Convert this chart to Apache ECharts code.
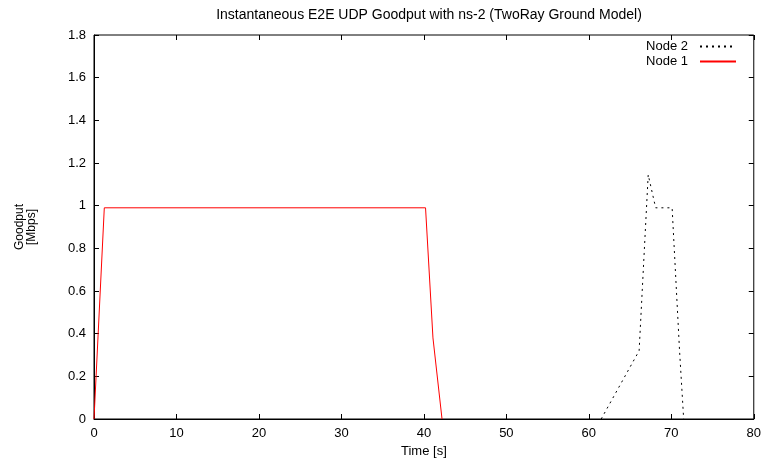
<!DOCTYPE html>
<html><head><meta charset="utf-8">
<script src="https://cdn.jsdelivr.net/npm/echarts@6/dist/echarts.min.js"></script>
<style>html,body{margin:0;padding:0;background:#fff}#c{width:764px;height:464px}</style>
</head><body><div id="c"></div>
<script>
const titleText = 'Instantaneous E2E UDP Goodput with ns-2 (TwoRay Ground Model)';
const xName = 'Time [s]';
const yName = 'Goodput\n[Mbps]';
const node1X = [0, 1.25, 40.2, 41.1, 42.2];
const node1Y = [0, 0.99, 0.99, 0.38, 0];
const node2X = [61.5, 66.1, 67.2, 68.1, 70.1, 71.0, 71.5];
const node2Y = [0, 0.32, 1.145, 0.99, 0.99, 0.32, 0];
const xTicks = [0, 10, 20, 30, 40, 50, 60, 70, 80];
const yTicks = [0, 0.2, 0.4, 0.6, 0.8, 1, 1.2, 1.4, 1.6, 1.8];

const font = 'Liberation Sans, Arial, sans-serif';
const chart = echarts.init(document.getElementById('c'));
const mkTick = () => ({show: true, inside: true, length: 5, lineStyle: {color: '#000', width: 1}});
chart.setOption({
  animation: false,
  backgroundColor: '#fff',
  title: {text: titleText, left: 424, top: 3, textAlign: 'center',
    textStyle: {fontFamily: font, fontSize: 14, fontWeight: 'normal', color: '#000'}},
  grid: {left: 94, right: 10, top: 35, bottom: 45, show: true, borderColor: '#000', borderWidth: 1},
  legend: {orient: 'vertical', right: 22, top: 35, align: 'right', itemWidth: 36, itemHeight: 10, itemGap: 2,
    data: ['Node 2', 'Node 1'], itemStyle: {opacity: 0},
    textStyle: {fontFamily: font, fontSize: 13, color: '#000', padding: [0, 7, 0, 0]}},
  xAxis: [{type: 'value', min: xTicks[0], max: xTicks[xTicks.length-1], interval: 10,
    name: xName, nameLocation: 'middle', nameGap: 26,
    nameTextStyle: {fontFamily: font, fontSize: 13, color: '#000'},
    axisLine: {show: true, onZero: false, lineStyle: {color: '#000'}}, axisTick: mkTick(), splitLine: {show: false},
    axisLabel: {fontFamily: font, fontSize: 13, color: '#000', margin: 8}},
    {type: 'value', position: 'top', min: 0, max: 80, interval: 10,
    axisLine: {show: false, onZero: false}, axisTick: mkTick(), axisLabel: {show: false}, splitLine: {show: false}}],
  yAxis: [{type: 'value', min: 0, max: 1.8, interval: 0.2,
    name: yName, nameLocation: 'middle', nameGap: 56, nameRotate: 90,
    nameTextStyle: {fontFamily: font, fontSize: 12, color: '#000', lineHeight: 12},
    axisLine: {show: true, onZero: false, lineStyle: {color: '#000'}}, axisTick: mkTick(), splitLine: {show: false},
    axisLabel: {fontFamily: font, fontSize: 13, color: '#000', margin: 8,
      formatter: v => String(Math.round(v*10)/10)}},
    {type: 'value', position: 'right', min: 0, max: 1.8, interval: 0.2,
    axisLine: {show: false, onZero: false}, axisTick: mkTick(), axisLabel: {show: false}, splitLine: {show: false}}],
  series: [
    {name: 'Node 2', type: 'line', symbol: 'none', data: node2X.map((x,i)=>[x,node2Y[i]]),
     itemStyle: {color: '#000'}, lineStyle: {color: '#000', width: 1, type: [2, 4]}},
    {name: 'Node 1', type: 'line', symbol: 'none', data: node1X.map((x,i)=>[x,node1Y[i]]),
     itemStyle: {color: '#ff0000'}, lineStyle: {color: '#ff0000', width: 1}}
  ]
});
</script></body></html>
